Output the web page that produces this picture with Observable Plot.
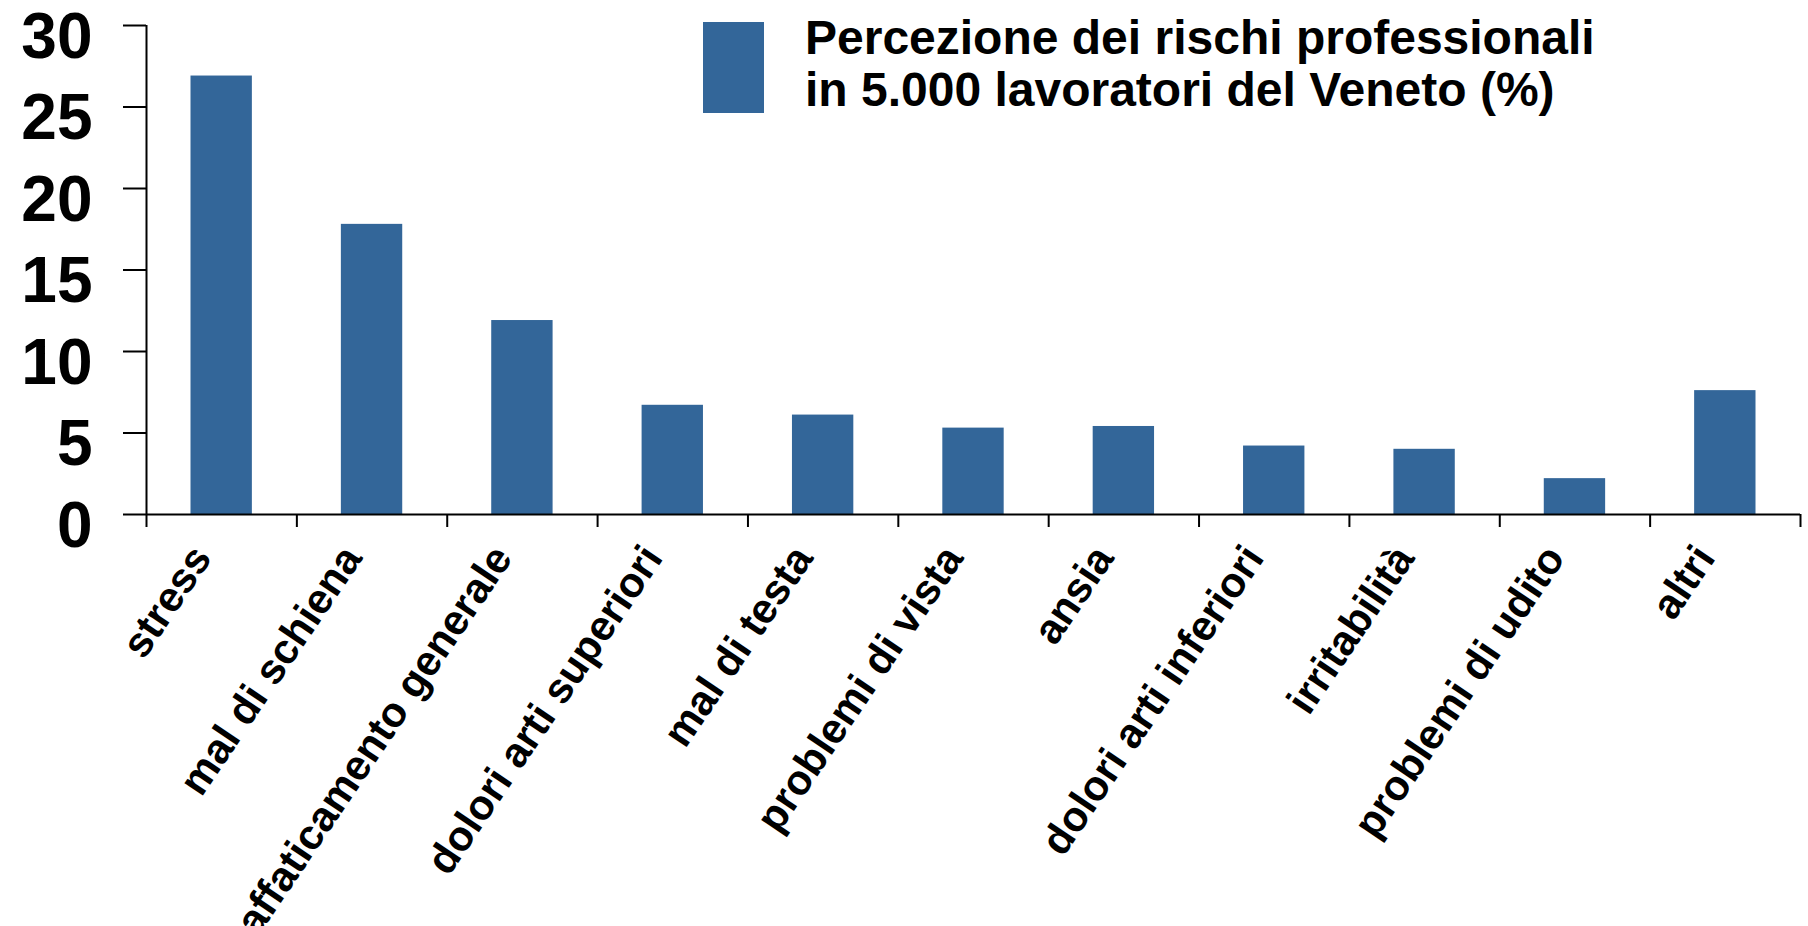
<!DOCTYPE html>
<html>
<head>
<meta charset="utf-8">
<script src="https://cdn.jsdelivr.net/npm/d3@7"></script>
<script src="https://cdn.jsdelivr.net/npm/@observablehq/plot@0.6"></script>
<style>
  html, body { margin: 0; padding: 0; background: #fff; }
  #wrap { position: relative; width: 1808px; height: 926px; font-family: "Liberation Sans", Arial, Helvetica, sans-serif; }
  #legend { position: absolute; left: 703px; top: 12px; display: flex; align-items: flex-start; }
  #legend .sw { width: 61px; height: 91px; background: #336699; margin-top: 10px; }
  #legend .lbl { margin-left: 41px; font-size: 48px; font-weight: bold; line-height: 52px; color: #000; white-space: nowrap; }
</style>
</head>
<body>
<div id="wrap">
  <div id="chart"></div>
  <div id="legend"><div class="sw"></div><div class="lbl" id="legendText"></div></div>
</div>
<script>
const categories = [
  "stress", "mal di schiena", "affaticamento generale", "dolori arti superiori",
  "mal di testa", "problemi di vista", "ansia", "dolori arti inferiori",
  "irritabilità", "problemi di udito", "altri"
];
const values = [26.9, 17.8, 11.9, 6.7, 6.1, 5.3, 5.4, 4.2, 4.0, 2.2, 7.6];
const yTicks = [0, 5, 10, 15, 20, 25, 30];
const legendLines = ["Percezione dei rischi professionali", "in 5.000 lavoratori del Veneto (%)"];

const table = categories.map((c, i) => ({cat: c, i, v: values[i]}));
const boundaries = d3.range(categories.length + 1);
const barColor = "#336699";

document.getElementById("legendText").innerHTML = legendLines.join("<br>");

const chart = Plot.plot({
  width: 1808,
  height: 926,
  marginTop: 25,
  marginBottom: 412,
  marginLeft: 146,
  marginRight: 8,
  style: {fontFamily: '"Liberation Sans", Arial, Helvetica, sans-serif', background: "white", overflow: "visible"},
  x: {domain: [0, categories.length], axis: null},
  y: {domain: [0, 30], axis: null},
  marks: [
    Plot.rectY(table, {x1: "i", x2: d => d.i + 1, y1: 0, y2: "v", fill: barColor, insetLeft: 44.5, insetRight: 44.5}),
    // y ticks (lines only)
    Plot.axisY({ticks: yTicks, tickSize: 23, fill: "none", stroke: "black", strokeWidth: 2, label: null}),
    // y tick labels
    Plot.axisY({ticks: yTicks, tickSize: 0, tickPadding: 54, dy: 12, fontSize: 64, fontWeight: "bold", fill: "black", label: null}),
    // x ticks at category boundaries
    Plot.axisX({ticks: boundaries, tickSize: 13, fill: "none", stroke: "black", strokeWidth: 2, label: null}),
    Plot.ruleX([0], {stroke: "black", strokeWidth: 2}),
    Plot.ruleY([0], {stroke: "black", strokeWidth: 2}),
    Plot.text(table, {
      x: d => d.i + 0.5, y: () => 0, text: "cat",
      rotate: -56, textAnchor: "end", dx: -20, dy: 36,
      fontSize: 42, fontWeight: "bold", fill: "black"
    })
  ]
});
document.getElementById("chart").appendChild(chart);
</script>
</body>
</html>
